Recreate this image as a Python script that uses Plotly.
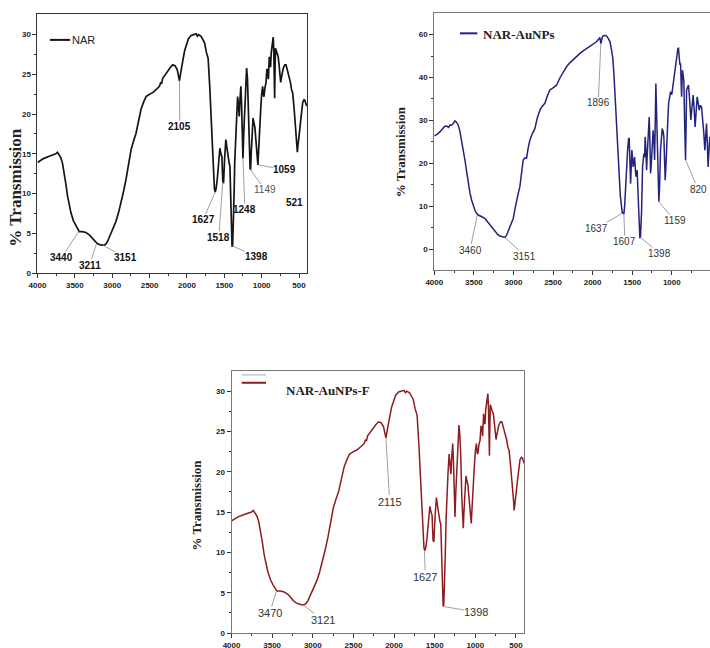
import plotly.graph_objects as go

# ---------------- data ----------------
# NAR spectrum (wavenumber cm-1, %T)
nar_wn = [4000, 3920, 3844, 3790, 3754, 3732, 3710, 3687, 3665, 3642, 3620, 3598, 3575, 3553, 3520,
          3486, 3441, 3400, 3352, 3307, 3270, 3240, 3200, 3173, 3140, 3106, 3080, 3061, 3040, 3017,
          2985, 2950, 2915, 2882, 2850, 2815, 2780, 2748, 2715, 2681, 2650, 2614, 2580, 2547, 2500,
          2458, 2410, 2368, 2350, 2340, 2324, 2290, 2257, 2220, 2190, 2160, 2130, 2112, 2100, 2090,
          2075, 2050, 2030, 2011, 1980, 1944, 1910, 1877, 1860, 1845, 1810, 1780, 1765, 1740, 1716,
          1695, 1676, 1660, 1645, 1632, 1622, 1610, 1595, 1578, 1559, 1545, 1532, 1520, 1510, 1495,
          1479, 1465, 1452, 1435, 1425, 1416, 1405, 1396, 1388, 1378, 1370, 1360, 1349, 1335, 1322,
          1310, 1300, 1290, 1278, 1268, 1260, 1250, 1240, 1228, 1214, 1201, 1190, 1180, 1166, 1155,
          1148, 1140, 1130, 1115, 1103, 1090, 1081, 1070, 1059, 1050, 1040, 1032, 1013, 1000, 987,
          975, 969, 955, 942, 930, 920, 910, 898, 888, 880, 872, 862, 853, 845, 838,
          830, 826, 822, 815, 808, 795, 778, 765, 752, 745, 735, 720, 710, 690, 674,
          655, 638, 615, 598, 585, 567, 555, 540, 530, 522, 515, 505, 496, 480, 464,
          450, 433, 420, 405, 395]
nar_t = [13.9, 14.4, 14.7, 14.9, 15.0, 15.2, 14.9, 14.5, 13.8, 12.6, 11.2, 9.7, 8.6, 7.6, 6.6,
         5.9, 5.2, 5.2, 5.1, 4.8, 4.4, 4.0, 3.7, 3.6, 3.5, 3.5, 3.7, 4.0, 4.5, 5.0,
         5.7, 6.5, 7.6, 8.8, 10.2, 11.8, 13.8, 15.5, 16.6, 17.6, 19.0, 20.6, 21.5, 22.2, 22.5,
         22.7, 23.1, 23.5, 24.0, 23.8, 24.5, 25.0, 25.4, 25.9, 26.2, 26.1, 25.6, 24.8, 24.2, 24.8,
         25.8, 27.0, 28.0, 28.7, 29.5, 29.9, 30.0, 30.1, 29.8, 30.0, 29.8, 29.3, 29.0, 27.8, 27.0,
         23.5, 19.7, 15.5, 12.0, 10.6, 10.2, 10.6, 11.7, 14.0, 15.7, 15.0, 14.6, 11.5, 11.3, 14.5,
         16.8, 15.8, 14.6, 13.8, 13.5, 9.6, 5.5, 3.3, 3.5, 6.0, 9.5, 14.0, 17.2, 20.0, 22.2,
         21.0, 19.7, 21.8, 23.5, 21.0, 18.4, 14.4, 17.5, 20.5, 24.0, 25.8, 24.5, 22.2, 16.8, 13.2,
         13.0, 15.0, 17.2, 19.5, 18.9, 18.3, 17.2, 15.5, 13.8, 13.6, 15.5, 17.6, 20.5, 22.5, 23.5,
         22.3, 22.2, 23.4, 23.9, 25.6, 25.6, 24.4, 27.2, 26.0, 26.0, 27.7, 28.5, 29.2, 29.7, 28.0,
         24.0, 22.0, 25.0, 28.3, 28.1, 27.6, 27.2, 26.0, 25.0, 24.0, 24.6, 25.5, 25.8, 26.2, 26.2,
         25.5, 24.9, 24.0, 23.0, 22.7, 20.9, 19.5, 18.4, 16.5, 15.2, 16.0, 17.3, 17.5, 19.0, 20.9,
         21.5, 21.8, 21.7, 21.2, 21.0]

# NAR-AuNPs spectrum
aunp_wn = [4000, 3960, 3928, 3900, 3870, 3844, 3820, 3800, 3781, 3760, 3739, 3720, 3697, 3676, 3655,
           3634, 3613, 3590, 3571, 3550, 3529, 3508, 3487, 3460, 3445, 3400, 3361, 3330, 3297, 3265,
           3234, 3200, 3171, 3140, 3108, 3087, 3065, 3045, 3025, 3003, 2980, 2961, 2940, 2919, 2897,
           2877, 2855, 2835, 2815, 2793, 2760, 2730, 2700, 2666, 2640, 2603, 2570, 2540, 2500, 2456,
           2410, 2372, 2330, 2288, 2245, 2204, 2160, 2119, 2075, 2035, 1990, 1951, 1925, 1908, 1896,
           1885, 1874, 1845, 1820, 1803, 1780, 1760, 1745, 1731, 1715, 1697, 1680, 1664, 1650, 1634,
           1625, 1614, 1605, 1596, 1580, 1568, 1558, 1545, 1538, 1528, 1520, 1504, 1495, 1487, 1470,
           1462, 1453, 1445, 1437, 1428, 1419, 1403, 1395, 1381, 1369, 1352, 1343, 1336, 1328, 1318,
           1310, 1298, 1285, 1276, 1268, 1260, 1251, 1235, 1225, 1217, 1210, 1201, 1192, 1184, 1175,
           1163, 1155, 1142, 1121, 1110, 1100, 1090, 1083, 1072, 1062, 1050, 1040, 1015, 1000, 990,
           973, 960, 948, 935, 923, 915, 907, 898, 889, 882, 876, 870, 864, 855, 847,
           838, 826, 818, 813, 800, 788, 775, 759, 745, 730, 718, 705, 692, 679, 665,
           654, 640, 624, 614, 604, 595, 582, 571, 561, 551, 541, 530, 519]
aunp_t = [26.4, 26.8, 27.4, 27.9, 28.6, 28.7, 28.4, 29.0, 28.9, 29.3, 29.9, 29.6, 28.9, 27.4, 25.4,
          23.0, 20.8, 17.9, 15.3, 13.2, 11.5, 10.1, 9.1, 8.3, 8.0, 7.6, 7.2, 6.5, 5.7, 4.8,
          4.1, 3.5, 3.1, 2.9, 2.8, 3.3, 4.3, 5.3, 6.2, 7.2, 9.5, 11.5, 13.0, 14.6, 17.5,
          20.8, 21.3, 21.2, 23.5, 25.4, 27.0, 28.1, 30.5, 32.4, 33.2, 34.0, 35.8, 37.1, 37.6, 38.2,
          40.0, 41.3, 42.5, 43.4, 44.2, 44.8, 45.6, 46.2, 46.8, 47.3, 47.9, 48.3, 48.9, 49.3, 47.9,
          49.3, 49.6, 49.8, 49.6, 49.1, 48.3, 46.3, 44.5, 40.9, 35.5, 28.5, 22.0, 16.9, 12.5, 9.9,
          8.4, 8.7, 8.2, 9.9, 16.1, 21.0, 23.1, 25.8, 25.8, 20.0, 15.3, 23.1, 20.0, 19.2, 21.5,
          19.0, 16.9, 18.0, 18.4, 14.0, 9.1, 2.6, 3.0, 9.1, 19.2, 22.3, 21.5, 26.2, 23.5, 18.4,
          22.0, 27.0, 30.8, 25.0, 17.7, 19.5, 23.9, 27.7, 25.0, 20.8, 28.0, 38.6, 32.0, 26.2, 20.0,
          11.1, 14.0, 23.1, 28.1, 27.5, 26.2, 22.0, 16.1, 20.0, 26.2, 30.0, 34.0, 36.7, 36.0, 37.4,
          39.4, 41.5, 44.0, 45.0, 46.7, 46.8, 45.6, 43.0, 43.3, 40.0, 35.5, 39.0, 41.7, 40.5, 39.0,
          30.0, 20.8, 30.0, 37.0, 37.8, 38.2, 35.0, 30.1, 33.0, 35.9, 33.0, 28.5, 32.0, 35.5, 34.0,
          32.4, 33.5, 33.2, 31.0, 29.3, 27.0, 23.1, 26.5, 29.3, 25.0, 19.2, 23.0, 26.2]

# NAR-AuNPs-F spectrum (drawn identically to NAR in the figure)
naf_wn = list(nar_wn)
naf_t = list(nar_t)

series_names = ["NAR", "NAR-AuNPs", "NAR-AuNPs-F"]

x_tick_vals = [4000, 3500, 3000, 2500, 2000, 1500, 1000, 500]
y1_tick_vals = [0, 5, 10, 15, 20, 25, 30]
y2_tick_vals = [0, 10, 20, 30, 40, 50]
y2_tick_text = ["0", "10", "20", "30", "40", "60"]
y3_tick_vals = [0, 5, 10, 15, 20, 25, 30]

# peak labels: (text, peak wn, peak %T)
nar_peaks = [("3440", 3450, 5.2), ("3211", 3213, 3.6), ("3151", 3124, 3.5), ("2105", 2100, 24.2),
             ("1627", 1622, 10.2), ("1518", 1520, 11.5), ("1248", 1250, 14.4), ("1398", 1390, 3.4),
             ("1149", 1148, 13.0), ("1059", 1050, 13.6), ("521", None, None)]
aunp_peaks = [("1896", 1896, 47.9), ("3460", 3457, 8.0), ("3151", 3108, 2.8), ("1637", 1627, 8.4),
              ("1607", 1605, 8.2), ("1398", 1398, 2.8), ("1159", 1163, 11.1), ("820", 826, 20.8)]
naf_peaks = [("2115", 2100, 24.2), ("1627", 1626, 10.3), ("1398", 1396, 3.3),
             ("3470", 3450, 5.1), ("3121", 3122, 3.5)]

# ---------------- layout positions (label anchor points in data units) ----------------
nar_label_pos = [(3682, 1.9), (3303, 1.0), (2820, 1.9), (2096, 18.4), (1783, 6.7), (1573, 4.5),
                 (1224, 8.0), (1067, 2.05), (956, 10.45), (688, 13.0), (554, 8.85)]
nar_label_style = ["b", "b", "b", "b", "b", "b", "b", "b", "g", "b", "b"]
aunp_label_pos = [(1929, 34.1), (3549, -0.16), (2855, -1.56), (1949, 4.9), (1592, 1.77),
                  (1150, -0.93), (961, 6.65), (667, 14.0)]
naf_label_pos = [(2054, 16.3), (1615, 7.0), (987, 2.6), (3532, 2.5), (2876, 1.6)]

fig = go.Figure()
fig.add_trace(go.Scatter(x=nar_wn, y=nar_t, mode="lines", name=series_names[0],
                         line=dict(color="#151515", width=1.7), xaxis="x", yaxis="y"))
fig.add_trace(go.Scatter(x=aunp_wn, y=aunp_t, mode="lines", name=series_names[1],
                         line=dict(color="#23237f", width=1.5), xaxis="x2", yaxis="y2"))
fig.add_trace(go.Scatter(x=naf_wn, y=naf_t, mode="lines", name=series_names[2],
                         line=dict(color="#8e1b1f", width=1.5), xaxis="x3", yaxis="y3"))

tickfont = dict(family="Liberation Sans", size=8, color="#222", weight="bold")


def xax(domain, rng, anchor, linecolor):
    return dict(domain=domain, range=rng, anchor=anchor, tickvals=x_tick_vals,
                ticks="outside", ticklen=4, tickwidth=1, tickcolor="#333",
                minor=dict(ticks="outside", ticklen=2, tickcolor="#333", tickvals=[3750, 3250, 2750, 2250, 1750, 1250, 750]),
                showline=True, linecolor=linecolor, linewidth=1, mirror=True,
                showgrid=False, zeroline=False, tickfont=tickfont, automargin=False)


def yax(domain, rng, anchor, tv, tt, linecolor, mirror, minor_vals):
    return dict(domain=domain, range=rng, anchor=anchor, tickvals=tv, ticktext=tt,
                ticks="outside", ticklen=4, tickwidth=1, tickcolor="#333",
                minor=dict(ticks="outside", ticklen=2, tickcolor="#333", tickvals=minor_vals),
                showline=True, linecolor=linecolor, linewidth=1, mirror=mirror,
                showgrid=False, zeroline=False, tickfont=tickfont, automargin=False)


fig.update_layout(
    width=710, height=648, margin=dict(l=0, r=0, t=0, b=0),
    paper_bgcolor="white", plot_bgcolor="white", showlegend=False,
    xaxis=xax([0.0528, 0.4324], [4000, 393], "y", "#333"),
    yaxis=yax([0.5787, 0.9784], [0, 32.6], "x", y1_tick_vals, [str(v) for v in y1_tick_vals], "#333", True,
              [2.5, 7.5, 12.5, 17.5, 22.5, 27.5]),
    xaxis2=xax([0.6117, 1.0], [4000, 517], "y2", "#777"),
    yaxis2=yax([0.5833, 0.9799], [-4.8, 55], "x2", y2_tick_vals, y2_tick_text, "#777", False,
               [5, 15, 25, 35, 45]),
    xaxis3=xax([0.3261, 0.7380], [4000, 401], "y3", "#777"),
    yaxis3=yax([0.0231, 0.4275], [0, 32.5], "x3", y3_tick_vals, [str(v) for v in y3_tick_vals], "#777", True,
               [2.5, 7.5, 12.5, 17.5, 22.5, 27.5]),
)

ann = []
shapes = []


def add_peaks(peaks, positions, xr, yr, styles=None, size=10):
    for i, ((txt, px, py), (tx, ty)) in enumerate(zip(peaks, positions)):
        st = styles[i] if styles else "r"
        if st == "b":
            f = dict(family="Liberation Sans", size=size, color="#111", weight="bold")
        elif st == "g":
            f = dict(family="Liberation Sans", size=size, color="#555")
        else:
            f = dict(family="Liberation Sans", size=size, color="#333")
        a = dict(text=txt, xref=xr, yref=yr, font=f)
        if px is None:
            a.update(x=tx, y=ty, showarrow=False)
        else:
            a.update(x=px, y=py, ax=tx, ay=ty, axref=xr, ayref=yr, showarrow=True,
                     arrowhead=0, arrowwidth=0.8, arrowcolor="#888", standoff=0, borderpad=0)
        ann.append(a)


add_peaks(nar_peaks, nar_label_pos, "x", "y", nar_label_style, 10)
add_peaks(aunp_peaks, aunp_label_pos, "x2", "y2", None, 10)
add_peaks(naf_peaks, naf_label_pos, "x3", "y3", None, 11)

# legends
shapes.append(dict(type="line", xref="x domain", yref="y domain", x0=0.046, x1=0.121, y0=0.90, y1=0.90,
                   line=dict(color="#151515", width=2)))
ann.append(dict(text=series_names[0], xref="x domain", yref="y domain", x=0.121, y=0.90,
                xanchor="left", yanchor="middle", showarrow=False,
                font=dict(family="Liberation Sans", size=11, color="#222")))
shapes.append(dict(type="line", xref="x2 domain", yref="y2 domain", x0=0.093, x1=0.156, y0=0.921, y1=0.921,
                   line=dict(color="#23237f", width=2)))
ann.append(dict(text=series_names[1], xref="x2 domain", yref="y2 domain", x=0.168, y=0.916,
                xanchor="left", yanchor="middle", showarrow=False,
                font=dict(family="Liberation Serif", size=13, color="#222", weight="bold")))
shapes.append(dict(type="line", xref="x3 domain", yref="y3 domain", x0=0.035, x1=0.118, y0=0.985, y1=0.985,
                   line=dict(color="#aaaaaa", width=1)))
shapes.append(dict(type="line", xref="x3 domain", yref="y3 domain", x0=0.035, x1=0.118, y0=0.955, y1=0.955,
                   line=dict(color="#8e1b1f", width=2)))
ann.append(dict(text=series_names[2], xref="x3 domain", yref="y3 domain", x=0.178, y=0.927,
                xanchor="left", yanchor="middle", showarrow=False,
                font=dict(family="Liberation Serif", size=13, color="#222", weight="bold")))

# y-axis titles
for xr, yr, x, y, s in [("x domain", "y domain", -0.083, 0.33, 17),
                        ("x2 domain", "y2 domain", -0.124, 0.459, 13),
                        ("x3 domain", "y3 domain", -0.119, 0.489, 13)]:
    ann.append(dict(text="% Transmission", xref=xr, yref=yr, x=x, y=y, textangle=-90,
                    showarrow=False, xanchor="center", yanchor="middle",
                    font=dict(family="Liberation Serif", size=s, color="#222", weight="bold")))

fig.update_layout(annotations=ann, shapes=shapes)
fig.write_html("out.html", config={"displayModeBar": False},
               post_script="document.body.style.margin='0';document.body.style.overflow='hidden';")
